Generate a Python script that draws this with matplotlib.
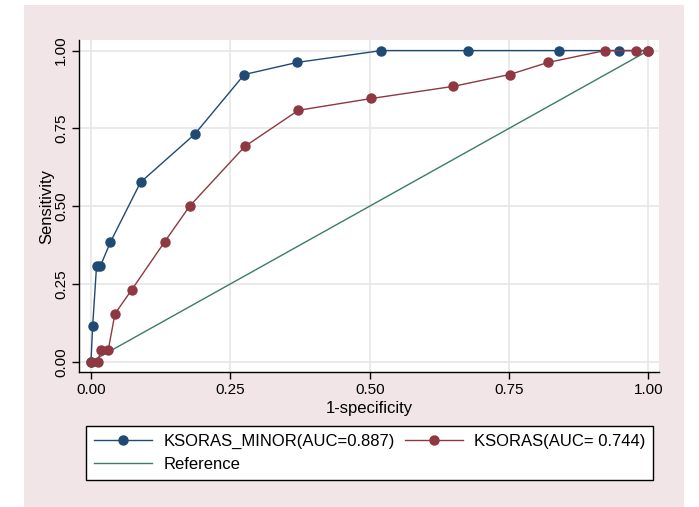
import numpy as np
from matplotlib import pyplot as plt
from matplotlib.patches import Rectangle

plt.rcParams['font.family'] = ['Liberation Sans', 'DejaVu Sans']

# ROC points (1-specificity, sensitivity)
minor_fpr = [0.0, 0.003, 0.010, 0.017, 0.035, 0.089, 0.186, 0.275, 0.370, 0.521, 0.677, 0.839, 0.947, 1.0]
minor_tpr = [0.0, 0.115, 0.308, 0.308, 0.385, 0.577, 0.731, 0.923, 0.962, 1.0, 1.0, 1.0, 1.0, 1.0]
ksoras_fpr = [0.0, 0.012, 0.018, 0.031, 0.043, 0.073, 0.132, 0.177, 0.276, 0.372, 0.503, 0.650, 0.751, 0.820, 0.922, 0.978, 1.0]
ksoras_tpr = [0.0, 0.0, 0.038, 0.038, 0.154, 0.231, 0.385, 0.500, 0.692, 0.808, 0.846, 0.885, 0.923, 0.962, 1.0, 1.0, 1.0]
ref = [0.0, 1.0]
labels = ['KSORAS_MINOR(AUC=0.887)', 'KSORAS(AUC= 0.744)', 'Reference']
ticks = [0.0, 0.25, 0.5, 0.75, 1.0]

blue = '#1F4A74'
red = '#8E3841'
green = '#3B7B6B'

fig = plt.figure(figsize=(6.99, 5.07), dpi=100)
fig.patch.set_facecolor('white')
fig.patches.append(Rectangle((24/699, 0), 660/699, 1-5/507, transform=fig.transFigure,
                             facecolor='#F1E5E7', edgecolor='none', zorder=-10))

ax = fig.add_axes([79/699, 1-372/507, 580/699, 332/507])
ax.set_facecolor('white')

l1, = ax.plot(minor_fpr, minor_tpr, '-o', color=blue, lw=1.0, ms=6.5, zorder=3)
l2, = ax.plot(ksoras_fpr, ksoras_tpr, '-o', color=red, lw=1.0, ms=6.5, zorder=4)
l3, = ax.plot(ref, ref, '-', color=green, lw=1.0, zorder=2)

ax.set_xlim(-0.0215, 1.019)
ax.set_ylim(-0.033, 1.034)
ax.set_xticks(ticks)
ax.set_yticks(ticks)
ax.set_xticklabels([f'{t:.2f}' for t in ticks], fontsize=11)
ax.set_yticklabels([f'{t:.2f}' for t in ticks], fontsize=11, rotation=90, va='center')
ax.grid(True, color='#E6E6E6', lw=1.2)
ax.set_axisbelow(True)
for s in ['top', 'right']:
    ax.spines[s].set_visible(False)
for s in ['left', 'bottom']:
    ax.spines[s].set_linewidth(1.0)
ax.tick_params(direction='out', length=5, width=1.0, pad=3)

ax.set_xlabel('1-specificity', fontsize=12, labelpad=3)
ax.set_ylabel('Sensitivity', fontsize=12, labelpad=0)

# column-first fill: col 1 = minor + reference, col 2 = ksoras
leg = fig.legend([l1, l3, l2], [labels[0], labels[2], labels[1]], loc='upper left',
                 bbox_to_anchor=(86/699, 1-426/507),
                 ncol=2, fontsize=12, handlelength=3.5,
                 fancybox=False, edgecolor='black', framealpha=1,
                 borderaxespad=0, labelspacing=0.46, borderpad=0.48,
                 handletextpad=0.65, columnspacing=0.6)
leg.get_frame().set_linewidth(1.0)

plt.savefig('out.png', dpi=100)
